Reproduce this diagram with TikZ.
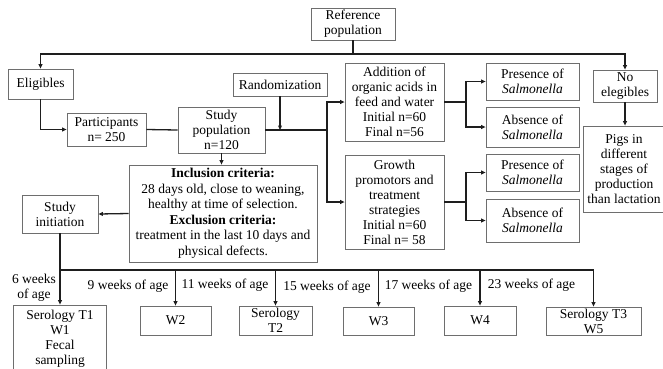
\documentclass[tikz,border=0pt]{standalone}
\usepackage{fontspec}
\setmainfont{Liberation Serif}
\usetikzlibrary{arrows.meta}
\definecolor{boxgray}{RGB}{110,110,110}
\definecolor{linegray}{RGB}{30,30,30}
\begin{document}
\begin{tikzpicture}[x=1pt,y=-1pt,
    box/.style={draw=boxgray,line width=0.7pt,inner sep=0pt,align=center,
      font=\fontsize{13.5}{15}\selectfont},
    lbl/.style={inner sep=0pt,align=center,font=\fontsize{13.5}{15}\selectfont},
    conn/.style={draw=linegray,line width=1.3pt},
    arr/.style={conn,-{Triangle[length=4.5pt,width=3.8pt]}}]
  \useasboundingbox (0,0) rectangle (663,368);
  \clip (0,0) rectangle (663,368);
  \fill[white] (0,0) rectangle (663,368);
  % top row
  \node[box,minimum width=84,minimum height=32] (refpop) at (353,24) {Reference\\population};
  \node[box,minimum width=65,minimum height=30] (elig) at (40.5,84) {Eligibles};
  \node[box,minimum width=64,minimum height=32] (noelig) at (625,86) {No\\elegibles};
  \node[box,minimum width=94,minimum height=23] (random) at (280,84.5) {Randomization};
  \node[box,minimum width=79,minimum height=33] (part) at (106.5,129.5) {Participants\\n= 250};
  \node[box,minimum width=87,minimum height=46] (studypop) at (221.5,130) {Study\\population\\n=120};
  % groups
  \node[box,minimum width=99,minimum height=78] (acids) at (394.5,102)
    {Addition of\\organic acids in\\feed and water\\Initial n=60\\Final n=56};
  \node[box,minimum width=99,minimum height=94] (growth) at (394.5,202)
    {Growth\\promotors and\\treatment\\strategies\\Initial n=60\\Final n= 58};
  \node[box,minimum width=93,minimum height=37] (pres1) at (532.5,81.5) {Presence of\\\textit{Salmonella}};
  \node[box,minimum width=93,minimum height=40] (abs1) at (532.5,127) {Absence of\\\textit{Salmonella}};
  \node[box,minimum width=93,minimum height=37] (pres2) at (532.5,172.5) {Presence of\\\textit{Salmonella}};
  \node[box,minimum width=93,minimum height=43] (abs2) at (532.5,220.5) {Absence of\\\textit{Salmonella}};
  \node[box,minimum width=82,minimum height=86] (pigs) at (624,169)
    {Pigs in\\different\\stages of\\production\\than lactation};
  % criteria
  \node[box,minimum width=188,minimum height=97,font=\fontsize{13.5}{15.5}\selectfont] (incl) at (223,213.5)
    {\textbf{Inclusion criteria:}\\28 days old, close to weaning,\\healthy at time of selection.\\
     \textbf{Exclusion criteria:}\\treatment in the last 10 days and\\physical defects.};
  \node[box,minimum width=76,minimum height=38] (init) at (60,214) {Study\\initiation};
  % samplings
  \node[box,minimum width=93,minimum height=68] (s1) at (60,339) {Serology T1\\W1\\Fecal\\sampling};
  \node[box,minimum width=71,minimum height=29] (w2) at (175.5,320.5) {W2};
  \node[box,minimum width=73,minimum height=29] (t2) at (275.5,320.5) {Serology\\T2};
  \node[box,minimum width=71,minimum height=28] (w3) at (378.5,321) {W3};
  \node[box,minimum width=72,minimum height=29] (w4) at (480,320.5) {W4};
  \node[box,minimum width=95,minimum height=28] (s3) at (593.5,321) {Serology T3\\W5};
  \node[lbl] (lab6) at (34,288) {6 weeks\\of age};
  \node[lbl] (lab9) at (128,286) {9 weeks of age};
  \node[lbl] (lab11) at (225,285) {11 weeks of age};
  \node[lbl] (lab15) at (327,287) {15 weeks of age};
  \node[lbl] (lab17) at (428.5,286) {17 weeks of age};
  \node[lbl] (lab23) at (531.5,285) {23 weeks of age};
  % connectors
  \coordinate (top) at (353,54);
  \coordinate (split) at (327,130);
  \coordinate (fork1) at (466,102);
  \coordinate (fork2) at (466,202);
  \coordinate (bus) at (60,270);
  \draw[conn] (refpop.south) -- (top);
  \draw[arr] (top) -| (elig.north);
  \draw[arr] (top) -| (noelig.north);
  \draw[arr] (elig.south) |- (part.west);
  \draw[conn] (part.east) -- (studypop.west);
  \draw[conn] (studypop.east) -- (split);
  \draw[arr] (random.south) -- (random.south |- split);
  \draw[arr] (split) |- (acids.west);
  \draw[arr] (split) |- (growth.west);
  \draw[conn] (acids.east) -- (fork1);
  \draw[arr] (fork1) |- (pres1.west);
  \draw[arr] (fork1) |- (abs1.west);
  \draw[conn] (growth.east) -- (fork2);
  \draw[arr] (fork2) |- (pres2.west);
  \draw[arr] (fork2) |- (abs2.west);
  \draw[arr] (noelig.south) -- (noelig.south |- pigs.north);
  \draw[arr] (studypop.south) -- (studypop.south |- incl.north);
  \draw[arr] (incl.west) -- (init.east);
  \draw[conn] (init.south) -- (bus);
  \foreach \n in {s1,w2,t2,w3,w4,s3}
    \draw[arr] (bus) -| (\n.north);
\end{tikzpicture}
\end{document}
